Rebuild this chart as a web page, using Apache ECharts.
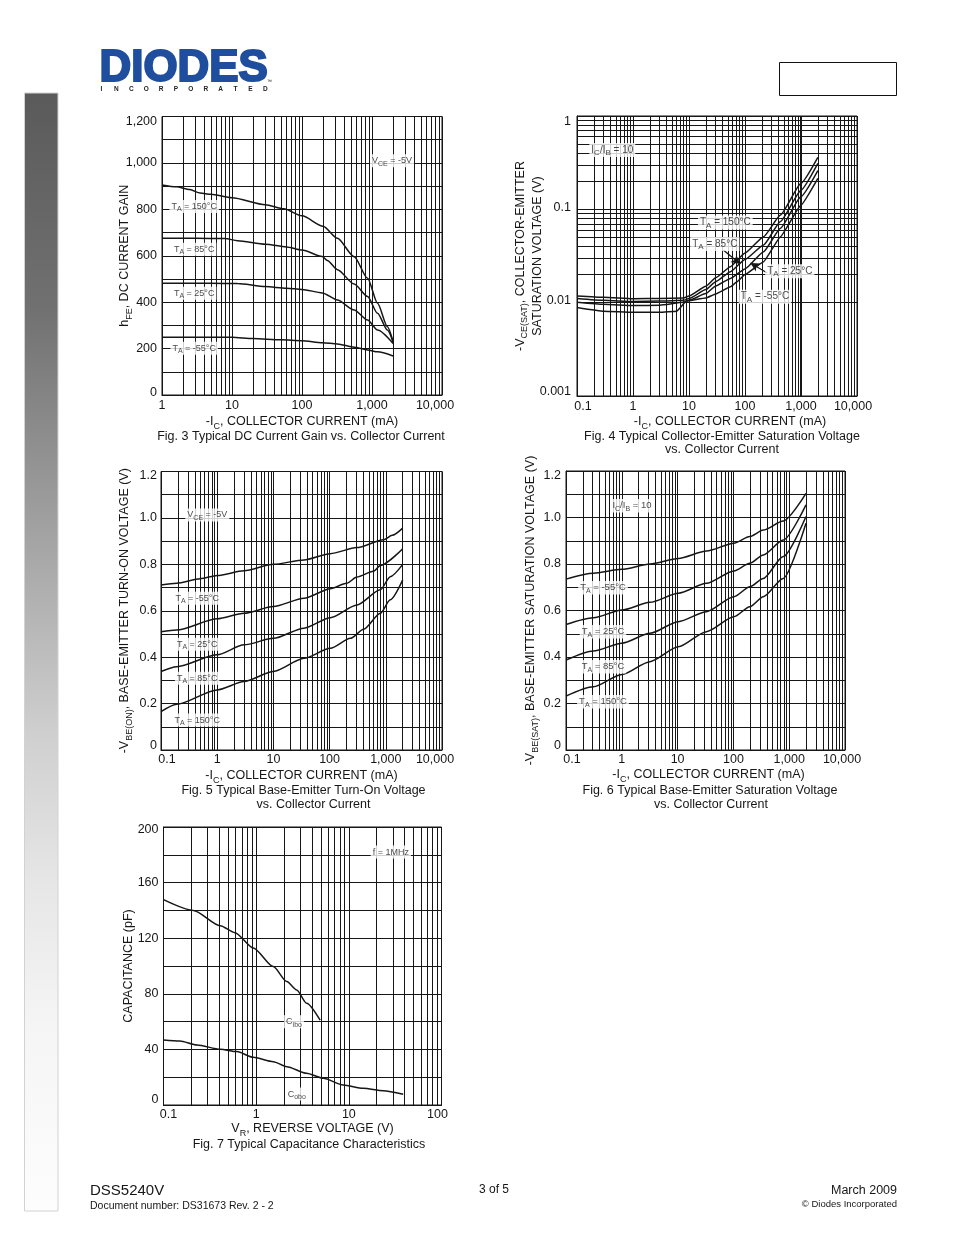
<!DOCTYPE html>
<html>
<head>
<meta charset="utf-8">
<script src="https://cdn.jsdelivr.net/npm/echarts@6/dist/echarts.min.js"></script>
<style>
html,body{margin:0;padding:0;background:#fff;}
#c{width:954px;height:1235px;}
</style>
</head>
<body>
<div id="c"></div>
<script>
// ================= DATA =================
// Fig. 3  hFE vs -IC (mA)
const fig3XTicks = [1, 10, 100, 1000, 10000];
const fig3XLabels = ['1', '10', '100', '1,000', '10,000'];
const fig3YTicks = [0, 200, 400, 600, 800, 1000, 1200];
const fig3YLabels = ['0', '200', '400', '600', '800', '1,000', '1,200'];
const fig3T150 = [[1,905],[1.6,897],[2.5,885],[3.5,870],[5,865],[10,850],[30,820],[55,802],[100,772],[200,727],[320,675],[556,596],[865,503],[1200,395],[1660,294],[2000,230]];
const fig3T85  = [[1,675],[3,675],[8,674],[12,665],[30,650],[60,638],[100,625],[195,597],[230,580],[321,540],[556,478],[865,424],[1200,352],[1660,280],[2000,228]];
const fig3T25  = [[1,481],[5,481],[12,480],[30,467],[60,460],[100,455],[195,440],[321,409],[556,366],[865,323],[1200,280],[2000,222]];
const fig3Tm55 = [[1,249],[10,249],[20,243],[50,238],[100,234],[195,225],[321,220],[556,206],[865,194],[1200,186],[2000,168]];

// Fig. 4  -VCE(SAT) vs -IC (mA)
const currXTicks = [0.1, 1, 10, 100, 1000, 10000];
const currXLabels = ['0.1', '1', '10', '100', '1,000', '10,000'];
const fig4YTicks = [0.001, 0.01, 0.1, 1];
const fig4YLabels = ['0.001', '0.01', '0.1', '1'];
const fig4T150 = [[0.1,0.0118],[0.3,0.0114],[1,0.0110],[3,0.0111],[8,0.0112],[10,0.0118],[20,0.0150],[30,0.0185],[55,0.0243],[100,0.034],[215,0.051],[430,0.087],[1000,0.19],[2000,0.36]];
const fig4T85  = [[0.1,0.0111],[0.3,0.0106],[1,0.0103],[3,0.0104],[8,0.0106],[10,0.0111],[20,0.0138],[30,0.0168],[55,0.0215],[100,0.029],[215,0.0415],[430,0.074],[1000,0.16],[2000,0.31]];
const fig4T25  = [[0.1,0.0101],[0.3,0.0096],[1,0.0093],[3,0.0094],[8,0.0101],[10,0.0106],[20,0.0125],[30,0.0151],[55,0.0182],[100,0.023],[215,0.0352],[430,0.0626],[1000,0.137],[2000,0.26]];
const fig4Tm55 = [[0.1,0.0089],[0.3,0.0081],[1,0.0079],[3,0.0079],[6,0.0081],[9,0.0104],[20,0.0112],[30,0.0124],[55,0.0148],[70,0.0165],[100,0.020],[215,0.0275],[430,0.0509],[1000,0.111],[2000,0.215]];

// Fig. 5  -VBE(ON) vs -IC (mA)
const voltYTicks = [0, 0.2, 0.4, 0.6, 0.8, 1.0, 1.2];
const voltYLabels = ['0', '0.2', '0.4', '0.6', '0.8', '1.0', '1.2'];
const fig5Tm55 = [[0.1,0.711],[0.19,0.719],[0.5,0.738],[1,0.752],[3,0.772],[10,0.800],[35,0.819],[103,0.846],[305,0.872],[914,0.906],[1300,0.925],[2000,0.956]];
const fig5T25  = [[0.1,0.510],[0.19,0.517],[1,0.565],[3,0.589],[10,0.618],[35,0.654],[103,0.695],[200,0.718],[307,0.745],[600,0.770],[800,0.795],[2000,0.867]];
const fig5T85  = [[0.1,0.338],[0.19,0.359],[1,0.41],[3,0.453],[10,0.481],[35,0.525],[103,0.57],[307,0.625],[800,0.69],[1200,0.747],[2000,0.80]];
const fig5T150 = [[0.1,0.165],[0.19,0.197],[1,0.259],[3,0.295],[10,0.338],[35,0.395],[103,0.438],[235,0.481],[403,0.52],[800,0.589],[1200,0.647],[2000,0.733]];

// Fig. 6  -VBE(SAT) vs -IC (mA)
const fig6Tm55 = [[0.1,0.735],[0.31,0.760],[1,0.777],[3.2,0.80],[10.3,0.824],[33,0.856],[102,0.889],[197,0.918],[343,0.946],[783,0.985],[2000,1.104]];
const fig6T25  = [[0.1,0.540],[0.31,0.569],[1,0.602],[3.2,0.635],[10.3,0.674],[33,0.717],[102,0.770],[197,0.803],[343,0.839],[783,0.903],[2000,1.054]];
const fig6T85  = [[0.1,0.387],[0.31,0.426],[1,0.459],[3.2,0.502],[10.3,0.552],[33,0.595],[102,0.659],[197,0.702],[343,0.738],[783,0.832],[2000,1.004]];
const fig6T150 = [[0.1,0.232],[0.31,0.272],[1,0.325],[3.2,0.380],[10.3,0.444],[33,0.509],[102,0.573],[197,0.616],[343,0.659],[783,0.738],[2000,0.975]];

// Fig. 7  Capacitance (pF) vs VR (V)
const fig7XTicks = [0.1, 1, 10, 100];
const fig7XLabels = ['0.1', '1', '10', '100'];
const fig7YTicks = [0, 40, 80, 120, 160, 200];
const fig7YLabels = ['0', '40', '80', '120', '160', '200'];
const fig7Cibo = [[0.1,147.7],[0.21,140],[0.41,129],[0.59,124],[0.93,113],[1.53,99.6],[2.14,88.8],[2.74,82.8],[3.5,73.2],[4.9,61]];
const fig7Cobo = [[0.1,46.8],[0.15,46.1],[0.23,43.2],[0.41,40.1],[0.62,38.4],[0.93,34.3],[1.53,31.2],[2.14,27.6],[3.5,22.8],[5.3,19.2],[8.7,14.4],[14.3,12],[23.5,10.3],[38.6,7.7]];

// Annotation texts (placed in data coordinates)
const fig3Notes = [
  {x:1930, y:1009, t:'V{s|CE} = -5V'},
  {x:2.88, y:812, t:'T{s|A} = 150°C'},
  {x:2.88, y:628, t:'T{s|A} = 85°C'},
  {x:2.88, y:438, t:'T{s|A} = 25°C'},
  {x:2.88, y:201, t:'T{s|A} = -55°C'}
];
const fig4Notes = [
  {x:0.427, y:0.432, t:'I{s|C}/I{s|B} = 10'},
  {x:44.5, y:0.0723, t:'T{s|A} = 150°C'},
  {x:28.9, y:0.0425, t:'T{s|A} = 85°C'},
  {x:631, y:0.0217, t:'T{s|A} = 25°C'},
  {x:227, y:0.0116, t:'T{s|A} = -55°C'}
];
const fig4Arrows = [
  [[41, 0.0367], [82.4, 0.0259]],
  [[250, 0.0208], [125, 0.0266]]
];
const fig5Notes = [
  {x:0.667, y:1.013, t:'V{s|CE} = -5V'},
  {x:0.44, y:0.654, t:'T{s|A} = -55°C'},
  {x:0.44, y:0.456, t:'T{s|A} = 25°C'},
  {x:0.44, y:0.309, t:'T{s|A} = 85°C'},
  {x:0.44, y:0.129, t:'T{s|A} = 150°C'}
];
const fig6Notes = [
  {x:1.52, y:1.051, t:'I{s|C}/I{s|B} = 10'},
  {x:0.46, y:0.698, t:'T{s|A} = -55°C'},
  {x:0.46, y:0.509, t:'T{s|A} = 25°C'},
  {x:0.46, y:0.358, t:'T{s|A} = 85°C'},
  {x:0.46, y:0.208, t:'T{s|A} = 150°C'}
];
const fig7Notes = [
  {x:28.4, y:182, t:'f = 1MHz'},
  {x:2.56, y:59.9, t:'C{s|ibo}'},
  {x:2.74, y:7.9, t:'C{s|obo}'}
];

// ================= BUILD =================
const FONT = '"Liberation Sans", Arial, Helvetica, sans-serif';
const INK = '#161616';
const TICK_FS = 12.5;

function findIdx(ticks, v, rel) {
  for (let i = 0; i < ticks.length; i++) {
    if (rel ? Math.abs(v / ticks[i] - 1) < 1e-6 : Math.abs(v - ticks[i]) < 1e-6) return i;
  }
  return -1;
}
function baseTxt(fs) { return {color: INK, fontFamily: FONT, fontSize: fs}; }
function nameStyle(pad, lh) {
  return {
    color: INK, fontFamily: FONT, fontSize: 12.5, lineHeight: lh || 18, padding: pad || 0,
    rich: {sub: {color: INK, fontFamily: FONT, fontSize: 9, lineHeight: 10, verticalAlign: 'bottom'}}
  };
}
// vertical shift helper for y tick labels (positive = down)
function shiftPad(s) { return s >= 0 ? [2 * s, 0, 0, 0] : [0, 0, -2 * s, 0]; }
function yLabelCfg(ticks, labels, rel, o) {
  return {
    show: true, margin: o.margin, color: INK, fontFamily: FONT, fontSize: TICK_FS,
    showMinLabel: true, showMaxLabel: true, hideOverlap: false,
    formatter: function (v) {
      const i = findIdx(ticks, v, rel);
      if (i < 0) return '';
      if (i === ticks.length - 1) return '{top|' + labels[i] + '}';
      if (i === 0) return '{bot|' + labels[i] + '}';
      return '{mid|' + labels[i] + '}';
    },
    rich: {
      top: Object.assign(baseTxt(TICK_FS), {padding: shiftPad(o.topShift || 0)}),
      mid: Object.assign(baseTxt(TICK_FS), {padding: shiftPad(o.midShift || 0)}),
      bot: Object.assign(baseTxt(TICK_FS), {padding: shiftPad(o.botShift || 0)})
    }
  };
}
function xLogAxis(gi, min, max, ticks, labels, o) {
  return {
    type: 'log', logBase: 10, gridIndex: gi, min: min, max: max,
    splitNumber: Math.round(Math.log10(max / min)),
    axisLine: {show: true, lineStyle: {color: INK, width: 1}},
    axisTick: {show: false},
    splitLine: {show: true, lineStyle: {color: INK, width: 1}},
    minorTick: {show: false}, minorSplitLine: {show: false},
    axisLabel: {
      show: true, margin: o.margin, color: INK, fontFamily: FONT, fontSize: TICK_FS,
      showMinLabel: true, showMaxLabel: true, hideOverlap: false,
      formatter: function (v) {
        const i = findIdx(ticks, v, true);
        if (i < 0) return '';
        if (i === 0 && o.firstPad) return '{first|' + labels[i] + '}';
        if (i === ticks.length - 1 && o.lastPad) return '{last|' + labels[i] + '}';
        return labels[i];
      },
      rich: {
        first: Object.assign(baseTxt(TICK_FS), {padding: [0, 0, 0, o.firstPad || 0]}),
        last: Object.assign(baseTxt(TICK_FS), {padding: [0, o.lastPad || 0, 0, 0]})
      }
    },
    name: o.name, nameLocation: 'middle', nameGap: o.nameGap, nameMoveOverlap: false,
    nameTextStyle: nameStyle(o.namePad)
  };
}
function yValAxis(gi, min, max, interval, ticks, labels, o) {
  return {
    type: 'value', gridIndex: gi, min: min, max: max, interval: interval,
    axisLine: {show: true, lineStyle: {color: INK, width: 1}},
    axisTick: {show: false},
    splitLine: {show: true, lineStyle: {color: INK, width: 1}},
    axisLabel: yLabelCfg(ticks, labels, false, o),
    name: o.name, nameLocation: 'middle', nameGap: o.nameGap, nameRotate: 90, nameMoveOverlap: false,
    nameTextStyle: nameStyle(o.namePad, o.lh)
  };
}
function yLogAxis(gi, min, max, ticks, labels, o) {
  return {
    type: 'log', logBase: 10, gridIndex: gi, min: min, max: max,
    splitNumber: Math.round(Math.log10(max / min)),
    axisLine: {show: true, lineStyle: {color: INK, width: 1}},
    axisTick: {show: false},
    splitLine: {show: true, lineStyle: {color: INK, width: 1}},
    axisLabel: yLabelCfg(ticks, labels, true, o),
    name: o.name, nameLocation: 'middle', nameGap: o.nameGap, nameRotate: 90, nameMoveOverlap: false,
    nameTextStyle: nameStyle(o.namePad, o.lh)
  };
}
// minor log grid values (2..9 of each decade) – grid rulings, not data
function logMinors(min, max) {
  const out = [];
  const e0 = Math.round(Math.log10(min)), e1 = Math.round(Math.log10(max));
  for (let e = e0; e < e1; e++) {
    const b = Math.pow(10, e);
    for (let d = 2; d <= 9; d++) out.push(Number((d * b).toPrecision(6)));
  }
  return out;
}
function gridSeries(gi, xs, ys, extra) {
  const data = xs.map(v => ({xAxis: v})).concat(ys.map(v => ({yAxis: v}))).concat(extra || []);
  return {
    type: 'line', xAxisIndex: gi, yAxisIndex: gi, data: [], z: 1, silent: true,
    markLine: {
      silent: true, animation: false, symbol: ['none', 'none'], label: {show: false},
      lineStyle: {color: INK, width: 1, type: 'solid'},
      emphasis: {disabled: true},
      data: data
    }
  };
}
function curve(gi, data, smooth) {
  return {
    type: 'line', xAxisIndex: gi, yAxisIndex: gi, data: data, showSymbol: false, symbol: 'none',
    smooth: smooth === undefined ? 0.25 : smooth, smoothMonotone: 'x',
    lineStyle: {color: INK, width: 1.5}, z: 10, silent: true, animation: false
  };
}
function notes(gi, list, fs, arrows) {
  const s = {
    type: 'scatter', xAxisIndex: gi, yAxisIndex: gi, z: 12, silent: true,
    symbol: 'rect', symbolSize: 1, itemStyle: {color: 'rgba(0,0,0,0)'},
    data: list.map(n => ({value: [n.x, n.y], label: {formatter: () => n.t}})),
    label: {
      show: true, position: 'inside', backgroundColor: '#fff', padding: [0, 2],
      color: INK, fontFamily: FONT, fontSize: fs, lineHeight: fs + 4,
      rich: {s: {color: INK, fontFamily: FONT, fontSize: Math.round(fs * 0.78), lineHeight: Math.round(fs * 0.78), verticalAlign: 'bottom'}}
    },
    animation: false
  };
  if (arrows) {
    s.markLine = {
      silent: true, animation: false, symbol: ['none', 'arrow'], symbolSize: [7, 9],
      label: {show: false}, lineStyle: {color: INK, width: 1.3, type: 'solid'},
      emphasis: {disabled: true},
      data: arrows.map(a => [{coord: a[0]}, {coord: a[1]}])
    };
  }
  return s;
}

const gridBase = {show: true, borderColor: INK, borderWidth: 1, backgroundColor: 'rgba(0,0,0,0)', containLabel: false, outerBoundsMode: 'none'};
const grids = [
  Object.assign({left: 162, top: 116.5, width: 280, height: 278.5}, gridBase),
  Object.assign({left: 577, top: 116, width: 280, height: 280}, gridBase),
  Object.assign({left: 161, top: 471.5, width: 281, height: 278.5}, gridBase),
  Object.assign({left: 566, top: 471, width: 279, height: 279}, gridBase),
  Object.assign({left: 163.5, top: 827, width: 278, height: 278}, gridBase)
];

const xAxes = [
  xLogAxis(0, 1, 10000, fig3XTicks, fig3XLabels, {margin: 4, lastPad: 14, name: '-I{sub|C}, COLLECTOR CURRENT (mA)', nameGap: 18}),
  xLogAxis(1, 0.1, 10000, currXTicks, currXLabels, {margin: 4, firstPad: 12, lastPad: 8, name: '-I{sub|C}, COLLECTOR CURRENT (mA)', nameGap: 17, namePad: [0, 0, 0, 26]}),
  xLogAxis(2, 0.1, 10000, currXTicks, currXLabels, {margin: 3, firstPad: 12, lastPad: 14, name: '-I{sub|C}, COLLECTOR CURRENT (mA)', nameGap: 17}),
  xLogAxis(3, 0.1, 10000, currXTicks, currXLabels, {margin: 3, firstPad: 12, lastPad: 6, name: '-I{sub|C}, COLLECTOR CURRENT (mA)', nameGap: 16, namePad: [0, 0, 0, 6]}),
  xLogAxis(4, 0.1, 100, fig7XTicks, fig7XLabels, {margin: 3, firstPad: 10, lastPad: 8, name: 'V{sub|R}, REVERSE VOLTAGE (V)', nameGap: 15, namePad: [0, 0, 0, 20]})
];
const yAxes = [
  yValAxis(0, 0, 1200, 100, fig3YTicks, fig3YLabels, {margin: 5, topShift: 5.5, botShift: -2, name: 'h{sub|FE}, DC CURRENT GAIN', nameGap: 28}),
  yLogAxis(1, 0.001, 1, fig4YTicks, fig4YLabels, {margin: 6, topShift: 6, midShift: -2, botShift: -4.5, name: '-V{sub|CE(SAT)}, COLLECTOR-EMITTER\nSATURATION VOLTAGE (V)', nameGap: 31, lh: 17}),
  yValAxis(2, 0, 1.2, 0.1, voltYTicks, voltYLabels, {margin: 4, topShift: 4, botShift: -4, name: '-V{sub|BE(ON)}, BASE-EMITTER TURN-ON VOLTAGE (V)', nameGap: 27}),
  yValAxis(3, 0, 1.2, 0.1, voltYTicks, voltYLabels, {margin: 5, topShift: 4.5, botShift: -4, name: '-V{sub|BE(SAT)}, BASE-EMITTER SATURATION VOLTAGE (V)', nameGap: 26}),
  yValAxis(4, 0, 200, 20, fig7YTicks, fig7YLabels, {margin: 5, topShift: 2.5, botShift: -5, name: 'CAPACITANCE (pF)', nameGap: 26})
];

const series = [
  gridSeries(0, logMinors(1, 10000), []),
  curve(0, fig3T150), curve(0, fig3T85), curve(0, fig3T25), curve(0, fig3Tm55),
  notes(0, fig3Notes, 9),

  gridSeries(1, logMinors(0.1, 10000), logMinors(0.001, 1), [{xAxis: 1000, lineStyle: {width: 2}}]),
  curve(1, fig4T150, 0.15), curve(1, fig4T85, 0.15), curve(1, fig4T25, 0.15), curve(1, fig4Tm55, 0.1),
  notes(1, fig4Notes, 10, fig4Arrows),

  gridSeries(2, logMinors(0.1, 10000), []),
  curve(2, fig5Tm55), curve(2, fig5T25), curve(2, fig5T85), curve(2, fig5T150),
  notes(2, fig5Notes, 9),

  gridSeries(3, logMinors(0.1, 10000), []),
  curve(3, fig6Tm55), curve(3, fig6T25), curve(3, fig6T85), curve(3, fig6T150),
  notes(3, fig6Notes, 9.5),

  gridSeries(4, logMinors(0.1, 100), []),
  curve(4, fig7Cibo), curve(4, fig7Cobo),
  notes(4, fig7Notes, 9)
];

// ---------- page furniture ----------
function txt(x, y, text, fs, align, extra) {
  return Object.assign({
    type: 'text', x: x, y: y, silent: true,
    style: {text: text, fill: INK, font: fs + 'px ' + FONT, textAlign: align || 'center', textVerticalAlign: 'middle'}
  }, extra || {});
}
const graphics = [];
// left gradient bar
graphics.push({
  type: 'rect', silent: true, shape: {x: 24.5, y: 93, width: 33.5, height: 1118},
  style: {
    stroke: '#d2d2d2', lineWidth: 1,
    fill: new echarts.graphic.LinearGradient(0, 0, 0, 1, [
      {offset: 0, color: '#5a5a5a'}, {offset: 0.19, color: '#707070'}, {offset: 0.384, color: '#a0a0a0'},
      {offset: 0.577, color: '#d0d0d0'}, {offset: 0.705, color: '#e6e6e6'}, {offset: 0.834, color: '#f5f5f5'},
      {offset: 1, color: '#fdfdfd'}
    ])
  }
});
// top right empty box
graphics.push({type: 'rect', silent: true, shape: {x: 779.5, y: 62.5, width: 117, height: 33}, style: {fill: '#fff', stroke: '#111', lineWidth: 1}});
// logo
graphics.push({
  type: 'text', x: 99.5, y: 68.5, scaleX: 0.975, silent: true,
  style: {text: 'DIODES', fill: '#1f4e9e', stroke: '#1f4e9e', lineWidth: 2.2, font: 'bold 45px ' + FONT, textAlign: 'left', textVerticalAlign: 'middle'}
});
const inc = 'INCORPORATED';
for (let i = 0; i < inc.length; i++) {
  graphics.push(txt(101.5 + i * 14.9, 89.5, inc[i], 6.5, 'center', {style: {text: inc[i], fill: '#222', font: 'bold 6.5px ' + FONT, textAlign: 'center', textVerticalAlign: 'middle'}}));
}
graphics.push(txt(267, 82, '™', 5, 'left'));
// captions
graphics.push(txt(301, 436.5, 'Fig. 3 Typical DC Current Gain vs. Collector Current', 12.5));
graphics.push(txt(722, 436.5, 'Fig. 4 Typical Collector-Emitter Saturation Voltage', 12.5));
graphics.push(txt(722, 450, 'vs. Collector Current', 12.5));
graphics.push(txt(303.5, 790.5, 'Fig. 5 Typical Base-Emitter Turn-On Voltage', 12.5));
graphics.push(txt(313.5, 804.5, 'vs. Collector Current', 12.5));
graphics.push(txt(710, 790.5, 'Fig. 6 Typical Base-Emitter Saturation Voltage', 12.5));
graphics.push(txt(711, 804.5, 'vs. Collector Current', 12.5));
graphics.push(txt(309, 1144.5, 'Fig. 7 Typical Capacitance Characteristics', 12.5));
// footer
graphics.push(txt(90, 1191, 'DSS5240V', 15, 'left'));
graphics.push(txt(90, 1206, 'Document number: DS31673 Rev. 2 - 2', 10.5, 'left'));
graphics.push(txt(494, 1190, '3 of 5', 12));
graphics.push(txt(897, 1191, 'March 2009', 12.5, 'right'));
graphics.push(txt(897, 1204.5, '© Diodes Incorporated', 9.5, 'right'));

const chart = echarts.init(document.getElementById('c'), null, {renderer: 'canvas', width: 954, height: 1235});
chart.setOption({
  animation: false,
  backgroundColor: '#fff',
  grid: grids,
  xAxis: xAxes,
  yAxis: yAxes,
  series: series,
  graphic: {elements: graphics}
});
</script>
</body>
</html>
